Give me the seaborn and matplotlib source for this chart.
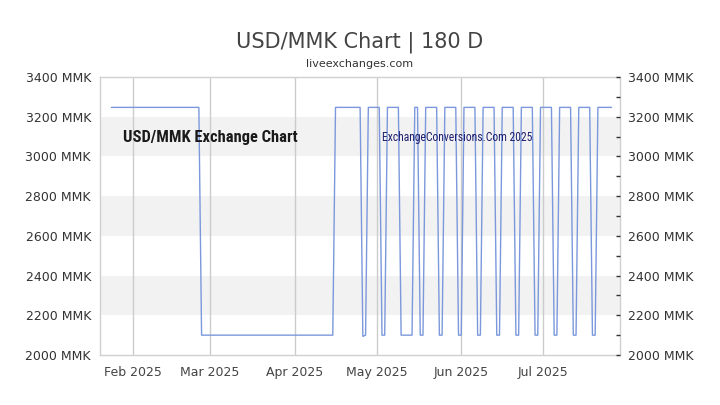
import pandas as pd
import numpy as np
import seaborn as sns
import matplotlib.pyplot as plt
import matplotlib.dates as mdates
from matplotlib import font_manager

# USD/MMK rate, one entry for every day where the line changes direction
dates = ['2025-01-24', '2025-02-25', '2025-02-26', '2025-04-15', '2025-04-16',
         '2025-04-25', '2025-04-26', '2025-04-27', '2025-04-28', '2025-05-02',
         '2025-05-03', '2025-05-04', '2025-05-05', '2025-05-09', '2025-05-10',
         '2025-05-14', '2025-05-15', '2025-05-16', '2025-05-17', '2025-05-18',
         '2025-05-19', '2025-05-23', '2025-05-24', '2025-05-25', '2025-05-26',
         '2025-05-30', '2025-05-31', '2025-06-01', '2025-06-02', '2025-06-06',
         '2025-06-07', '2025-06-08', '2025-06-09', '2025-06-13', '2025-06-14',
         '2025-06-15', '2025-06-16', '2025-06-20', '2025-06-21', '2025-06-22',
         '2025-06-23', '2025-06-27', '2025-06-28', '2025-06-29', '2025-06-30',
         '2025-07-04', '2025-07-05', '2025-07-06', '2025-07-07', '2025-07-11',
         '2025-07-12', '2025-07-13', '2025-07-14', '2025-07-18', '2025-07-19',
         '2025-07-20', '2025-07-21', '2025-07-26']
rates = [3247, 3247, 2100, 2100, 3247,
         3247, 2094, 2100, 3247, 3247,
         2100, 2100, 3247, 3247, 2100,
         2100, 3247, 3247, 2100, 2100,
         3247, 3247, 2100, 2100, 3247,
         3247, 2100, 2100, 3247, 3247,
         2100, 2100, 3247, 3247, 2100,
         2100, 3247, 3247, 2100, 2100,
         3247, 3247, 2100, 2100, 3247,
         3247, 2100, 2100, 3247, 3247,
         2100, 2100, 3247, 3247, 2100,
         2100, 3247, 3247]

month_ticks = ['2025-02-01', '2025-03-01', '2025-04-01', '2025-05-01', '2025-06-01', '2025-07-01']
y_major = [2000, 2200, 2400, 2600, 2800, 3000, 3200, 3400]
y_minor = [2000, 2100, 2200, 2300, 2400, 2500, 2600, 2700, 2800, 2900, 3000, 3100, 3200, 3300, 3400]

df = pd.DataFrame({'date': pd.to_datetime(dates), 'rate': rates})

sns.set_style('white')
plt.rcParams['font.family'] = ['DejaVu Sans']

# pick a narrow face for the watermark text if one is installed
installed = {f.name for f in font_manager.fontManager.ttflist}
narrow = 'DejaVu Sans'
for cand in ['Liberation Sans Narrow', 'Roboto Condensed', 'Open Sans Condensed', 'Noto Sans Condensed']:
    if cand in installed:
        narrow = cand
        break

fig = plt.figure(figsize=(7.2, 4.05), dpi=100)
ax = fig.add_axes([100/720, 1 - 355/405, 520/720, 278/405])

# alternating grey bands
for lo in y_major[1:-1:2]:
    ax.axhspan(lo, lo + 200, color='#f2f2f2', lw=0, zorder=0)

# month grid lines
for m in pd.to_datetime(month_ticks):
    ax.axvline(m, color='#cccccc', lw=1, zorder=1)

sns.lineplot(data=df, x='date', y='rate', ax=ax, color='#7b98dc', linewidth=1, zorder=3)

ax.set_xlim(pd.Timestamp('2025-01-19 20:00'), pd.Timestamp('2025-07-29 02:00'))
ax.set_ylim(2000, 3400)
ax.set_xlabel('')
ax.set_ylabel('')
ax.set_xticks(pd.to_datetime(month_ticks))
ax.xaxis.set_major_formatter(mdates.DateFormatter('%b %Y'))
ax.set_yticks(y_major)
ax.set_yticklabels([f'{v} MMK' for v in y_major])
ax.tick_params(axis='both', length=0, labelsize=9, colors='#333333')
ax.tick_params(axis='x', pad=8, colors='#444444')
ax.tick_params(axis='y', pad=6.5)
for s in ax.spines.values():
    s.set_color('#d0d0d0')
    s.set_linewidth(1)

# right axis with minor ticks every 100
ax2 = ax.twinx()
ax2.set_ylim(2000, 3400)
ax2.set_yticks(y_minor)
ax2.set_yticklabels([f'{v} MMK' if v % 200 == 0 else '' for v in y_minor])
ax2.tick_params(axis='y', direction='in', length=3, width=1, color='#333333',
                labelsize=9, labelcolor='#333333', pad=5.5)
for s in ax2.spines.values():
    s.set_visible(False)

# watermarks, sized so their width roughly matches the original
wm1 = ax.text(0.044, 0.767, 'USD/MMK Exchange Chart', transform=ax.transAxes,
              family=narrow, fontweight='bold', fontstretch='condensed',
              fontsize=12, color='#1a1a1a', zorder=4)
wm2 = ax.text((382 - 100) / 520, (355 - 140.7) / 278, 'ExchangeConversions.Com 2025',
              transform=ax.transAxes, family=narrow, fontweight='normal',
              fontstretch='condensed', fontsize=9, color='#1e1e6e', zorder=4)
fig.canvas.draw()
r = fig.canvas.get_renderer()
for t, target in [(wm1, 175), (wm2, 152)]:
    w = t.get_window_extent(r).width
    t.set_fontsize(t.get_fontsize() * target / w)

fig.text(0.5, 1 - 47.3/405, 'USD/MMK Chart | 180 D', ha='center', va='baseline',
         fontsize=15, color='#444444')
fig.text(0.5, 1 - 66.7/405, 'liveexchanges.com', ha='center', va='baseline',
         fontsize=8, color='#333333')

fig.savefig('out.png', dpi=100, facecolor='white')
